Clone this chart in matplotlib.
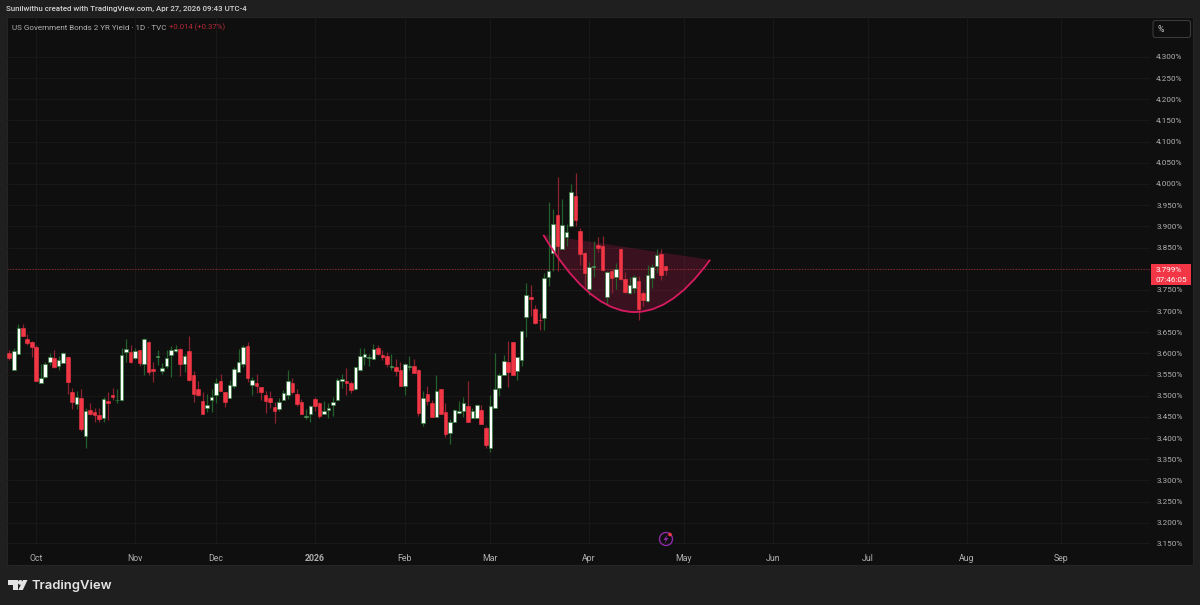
import numpy as np
import matplotlib
matplotlib.use('Agg')
import matplotlib.pyplot as plt
from matplotlib.patches import Rectangle, FancyBboxPatch, Circle, Polygon, PathPatch
from matplotlib.path import Path
from matplotlib.transforms import Affine2D

plt.rcParams['font.family'] = ['Roboto', 'DejaVu Sans']

# --- daily candles ---
direction = ('RGGRRRRGGG' 'RGGRRGRGRR' 'RGRRGGGRGR' 'GRRGGGGGRG' 'RRRRGGGRRG'
             'GGGRGRRRRR' 'GGGRRRGGRR' 'GGGGGRRGGG' 'GGRRRGRRGG' 'RRGRRGRRGG'
             'GGRGGRRGGG' 'GRRGGGRRRG' 'GGRGGGRRRG' 'GRRGRGRRGG' 'RRGGGRR')

highs = [3.609, 3.613, 3.670, 3.670, 3.647, 3.629, 3.619, 3.576, 3.580, 3.601,
         3.607, 3.595, 3.604, 3.593, 3.518, 3.512, 3.517, 3.470, 3.482, 3.470,
         3.470, 3.497, 3.510, 3.519, 3.517, 3.613, 3.634, 3.619, 3.613, 3.608,
         3.637, 3.629, 3.580, 3.607, 3.578, 3.607, 3.618, 3.619, 3.612, 3.599,
         3.640, 3.559, 3.534, 3.510, 3.505, 3.517, 3.541, 3.552, 3.509, 3.538,
         3.569, 3.611, 3.620, 3.627, 3.545, 3.552, 3.521, 3.512, 3.512, 3.486,
         3.495, 3.514, 3.560, 3.541, 3.515, 3.492, 3.469, 3.479, 3.497, 3.486,
         3.488, 3.482, 3.497, 3.542, 3.552, 3.566, 3.536, 3.569, 3.613, 3.612,
         3.599, 3.623, 3.620, 3.608, 3.604, 3.599, 3.586, 3.580, 3.578, 3.593,
         3.586, 3.564, 3.512, 3.523, 3.490, 3.550, 3.516, 3.482, 3.446, 3.468,
         3.487, 3.497, 3.535, 3.472, 3.480, 3.479, 3.428, 3.501, 3.600, 3.554,
         3.597, 3.630, 3.628, 3.592, 3.656, 3.767, 3.762, 3.715, 3.696, 3.791,
         3.958, 3.941, 4.016, 3.964, 3.905, 4.001, 4.027, 3.896, 3.839, 3.817,
         3.866, 3.876, 3.878, 3.794, 3.800, 3.813, 3.849, 3.792, 3.780, 3.786,
         3.782, 3.747, 3.808, 3.810, 3.847, 3.847, 3.807]

body_tops = [3.601, 3.605, 3.661, 3.660, 3.635, 3.626, 3.615, 3.541, 3.576, 3.592,
             3.590, 3.585, 3.600, 3.592, 3.510, 3.497, 3.495, 3.464, 3.467, 3.461,
             3.454, 3.493, 3.488, 3.501, 3.491, 3.597, 3.610, 3.604, 3.605, 3.607,
             3.633, 3.626, 3.564, 3.594, 3.565, 3.589, 3.608, 3.611, 3.611, 3.593,
             3.606, 3.549, 3.516, 3.487, 3.478, 3.497, 3.531, 3.534, 3.508, 3.526,
             3.564, 3.579, 3.615, 3.617, 3.538, 3.529, 3.521, 3.501, 3.495, 3.474,
             3.486, 3.507, 3.535, 3.531, 3.505, 3.486, 3.453, 3.475, 3.492, 3.482,
             3.465, 3.472, 3.486, 3.538, 3.540, 3.534, 3.529, 3.567, 3.593, 3.599,
             3.592, 3.611, 3.613, 3.597, 3.594, 3.571, 3.567, 3.562, 3.575, 3.571,
             3.571, 3.560, 3.494, 3.505, 3.484, 3.512, 3.516, 3.461, 3.439, 3.467,
             3.464, 3.483, 3.476, 3.465, 3.479, 3.467, 3.423, 3.477, 3.515, 3.549,
             3.582, 3.580, 3.628, 3.592, 3.654, 3.739, 3.733, 3.706, 3.680, 3.778,
             3.795, 3.906, 3.927, 3.904, 3.887, 3.982, 3.972, 3.890, 3.836, 3.804,
             3.806, 3.857, 3.854, 3.792, 3.795, 3.799, 3.847, 3.776, 3.762, 3.780,
             3.771, 3.742, 3.785, 3.805, 3.832, 3.835, 3.807]

body_bottoms = [3.588, 3.560, 3.598, 3.642, 3.625, 3.616, 3.534, 3.531, 3.545, 3.579,
                3.569, 3.570, 3.578, 3.532, 3.485, 3.480, 3.422, 3.406, 3.458, 3.454,
                3.446, 3.447, 3.483, 3.497, 3.490, 3.489, 3.603, 3.579, 3.588, 3.577,
                3.575, 3.557, 3.559, 3.592, 3.558, 3.570, 3.597, 3.605, 3.576, 3.575,
                3.537, 3.505, 3.501, 3.457, 3.471, 3.491, 3.501, 3.511, 3.485, 3.494,
                3.522, 3.557, 3.576, 3.542, 3.525, 3.523, 3.508, 3.488, 3.485, 3.464,
                3.468, 3.490, 3.501, 3.509, 3.480, 3.457, 3.450, 3.457, 3.475, 3.453,
                3.458, 3.467, 3.478, 3.491, 3.534, 3.530, 3.513, 3.516, 3.562, 3.592,
                3.589, 3.587, 3.598, 3.591, 3.575, 3.568, 3.559, 3.523, 3.524, 3.567,
                3.554, 3.460, 3.435, 3.487, 3.450, 3.450, 3.457, 3.409, 3.413, 3.439,
                3.460, 3.465, 3.439, 3.448, 3.448, 3.434, 3.384, 3.377, 3.472, 3.519,
                3.549, 3.556, 3.550, 3.559, 3.584, 3.685, 3.728, 3.672, 3.678, 3.683,
                3.781, 3.836, 3.854, 3.847, 3.875, 3.900, 3.914, 3.835, 3.791, 3.753,
                3.803, 3.849, 3.798, 3.733, 3.777, 3.781, 3.775, 3.744, 3.742, 3.754,
                3.706, 3.727, 3.724, 3.777, 3.807, 3.784, 3.798]

lows = [3.584, 3.560, 3.598, 3.642, 3.621, 3.592, 3.534, 3.531, 3.542, 3.573,
        3.566, 3.560, 3.578, 3.505, 3.468, 3.468, 3.417, 3.377, 3.454, 3.439,
        3.438, 3.439, 3.442, 3.491, 3.483, 3.488, 3.580, 3.578, 3.586, 3.570,
        3.549, 3.549, 3.532, 3.572, 3.552, 3.565, 3.544, 3.604, 3.546, 3.557,
        3.534, 3.485, 3.499, 3.456, 3.461, 3.461, 3.482, 3.511, 3.473, 3.494,
        3.519, 3.556, 3.567, 3.532, 3.501, 3.507, 3.489, 3.459, 3.472, 3.435,
        3.465, 3.490, 3.493, 3.505, 3.475, 3.456, 3.444, 3.439, 3.464, 3.448,
        3.456, 3.447, 3.453, 3.490, 3.518, 3.501, 3.506, 3.513, 3.559, 3.572,
        3.571, 3.586, 3.597, 3.584, 3.567, 3.562, 3.546, 3.522, 3.501, 3.560,
        3.553, 3.453, 3.428, 3.479, 3.449, 3.449, 3.456, 3.402, 3.386, 3.438,
        3.456, 3.451, 3.438, 3.447, 3.447, 3.433, 3.376, 3.367, 3.471, 3.499,
        3.548, 3.521, 3.548, 3.538, 3.571, 3.639, 3.688, 3.670, 3.656, 3.656,
        3.758, 3.795, 3.794, 3.847, 3.853, 3.898, 3.902, 3.808, 3.756, 3.737,
        3.780, 3.839, 3.794, 3.714, 3.742, 3.753, 3.774, 3.743, 3.740, 3.742,
        3.680, 3.711, 3.722, 3.754, 3.790, 3.773, 3.785]

# month ticks, given as bar number (future bars continue the same count)
month_bars = [6, 28, 46, 68, 88, 107, 129, 150, 170, 191, 213, 234]
month_labels = ['Oct', 'Nov', 'Dec', '2026', 'Feb', 'Mar', 'Apr', 'May', 'Jun', 'Jul', 'Aug', 'Sep']

price_ticks = [3.15, 3.20, 3.25, 3.30, 3.35, 3.40, 3.45, 3.50, 3.55, 3.60, 3.65, 3.70,
               3.75, 3.80, 3.85, 3.90, 3.95, 4.00, 4.05, 4.10, 4.15, 4.20, 4.25, 4.30]
last_price = 3.799

# cup drawn with the arc tool: start, control, end
arc_bars = [118.8, 137.4, 155.9]
arc_prices = [3.880, 3.5475, 3.821]

BG = '#1f1f1f'
PANE = '#0f0f0f'
GRID = '#181818'
RED = '#f23645'
PINK = '#d81b60'
LABEL = '#b0b0b0'

fig = plt.figure(figsize=(12, 6.05), dpi=100, facecolor=BG)

# transform for page furniture, in pixels from the top left corner
px = Affine2D().scale(1 / 1200, -1 / 605).translate(0, 1) + fig.transFigure

fig.add_artist(Rectangle((7, 17), 1186, 548, transform=px, facecolor=PANE,
                         edgecolor='#242424', linewidth=0.8, zorder=0))

ax = fig.add_axes([7 / 1200, 1 - 544 / 605, 1143 / 1200, 527 / 605])
ax.patch.set_alpha(0)
ax.set_xlim(-0.51, 253.77)
ax.set_ylim(3.1514, 4.3943)
for s in ax.spines.values():
    s.set_visible(False)

ax.set_xticks(month_bars)
ax.set_xticklabels(month_labels, fontsize=6.3, color=LABEL)
ax.get_xticklabels()[3].set_fontweight('bold')
ax.set_yticks(price_ticks)
ax.set_yticklabels(['%.3f%%' % p for p in price_ticks], fontsize=5.9, color=LABEL)
ax.yaxis.tick_right()
ax.tick_params(axis='x', length=0, pad=7.5)
ax.tick_params(axis='y', length=0, pad=4.5)
ax.grid(True, color=GRID, linewidth=0.8, zorder=0)
ax.set_axisbelow(True)
ax.axhline(ax.get_ylim()[0], color='#1c1c1c', linewidth=1.2)

# cup fill and outline
verts = list(zip(arc_bars, arc_prices))
fill_path = Path(verts + [verts[0], verts[0]],
                 [Path.MOVETO, Path.CURVE3, Path.CURVE3, Path.LINETO, Path.CLOSEPOLY])
ax.add_patch(PathPatch(fill_path, facecolor='#e91e63', alpha=0.2, edgecolor='none', zorder=1))

# candles
bars = np.arange(len(highs))
up = np.array([c == 'G' for c in direction])
highs = np.array(highs)
lows = np.array(lows)
tops = np.array(body_tops)
bottoms = np.array(body_bottoms)

ax.vlines(bars[up], lows[up], highs[up], color='#24602c', linewidth=0.9, zorder=2)
ax.vlines(bars[~up], lows[~up], highs[~up], color='#8c2230', linewidth=0.9, zorder=2)
ax.bar(bars[up], tops[up] - bottoms[up], bottom=bottoms[up], width=0.78, color='#ffffff',
       edgecolor='#2d7a36', linewidth=0.5, zorder=3)
ax.bar(bars[~up], tops[~up] - bottoms[~up], bottom=bottoms[~up], width=0.8, color=RED,
       edgecolor=RED, linewidth=0.4, zorder=3)

arc_path = Path(verts, [Path.MOVETO, Path.CURVE3, Path.CURVE3])
ax.add_patch(PathPatch(arc_path, facecolor='none', edgecolor=PINK, linewidth=1.3, zorder=4))

# last price line
ax.axhline(last_price, color=RED, alpha=0.55, linewidth=0.8, linestyle=(0, (1, 1.5)), zorder=2)

# last price tag
fig.add_artist(Rectangle((1151, 264), 39.5, 21, transform=px, facecolor=RED, edgecolor='none', zorder=5))
fig.text(1156 / 1200, 1 - 270 / 605, '3.799%', color='white', fontsize=5.9, ha='left', va='center', zorder=6)
fig.text(1156 / 1200, 1 - 279.5 / 605, '07:46:05', color='white', fontsize=5.9, ha='left', va='center', zorder=6)

# % button
fig.add_artist(FancyBboxPatch((1153, 20.5), 37.5, 17, boxstyle='round,pad=0,rounding_size=2.5', transform=px,
                              facecolor=PANE, edgecolor='#3a3a3a', linewidth=0.8, zorder=5))
fig.text(1161 / 1200, 1 - 29 / 605, '%', color='#c8c8c8', fontsize=6.2, ha='center', va='center', zorder=6)

# header and legend
fig.text(6 / 1200, 1 - 9 / 605, 'Sunilwithu created with TradingView.com, Apr 27, 2026 09:43 UTC-4',
         color='#d4d4d4', fontsize=5.7, fontweight='medium', va='center')
fig.text(12 / 1200, 1 - 27.5 / 605, 'US Government Bonds 2 YR Yield · 1D · TVC', color='#b0b0b0', fontsize=5.8, va='center')
fig.text(169 / 1200, 1 - 27.5 / 605, '+0.014 (+0.37%)', color='#b52a38', fontsize=5.6, va='center')

# session icon
fig.add_artist(Circle((666, 539), 6.5, transform=px, facecolor='none', edgecolor='#8e2aa8', linewidth=1.0, zorder=5))
fig.add_artist(Polygon([(667.5, 534.5), (663.5, 540), (665.8, 540), (664.5, 543.5), (668.5, 538), (666.2, 538)],
                       transform=px, facecolor='#8e2aa8', edgecolor='none', zorder=5))
fig.add_artist(Circle((670, 534.5), 1.8, transform=px, facecolor=RED, edgecolor='none', zorder=6))

# logo
logo = '#e4e4e4'
fig.add_artist(Polygon([(8, 580), (18, 580), (18, 590), (13, 590), (13, 585), (8, 585)], transform=px, facecolor=logo, edgecolor='none'))
fig.add_artist(Circle((20.3, 582.4), 2.4, transform=px, facecolor=logo, edgecolor='none'))
fig.add_artist(Polygon([(23, 580), (27.5, 580), (22.8, 590), (18.3, 590)], transform=px, facecolor=logo, edgecolor='none'))
fig.text(32 / 1200, 1 - 585.5 / 605, 'TradingView', color=logo, fontsize=9.4, fontweight='semibold',
         family=['Inter', 'DejaVu Sans'], va='center')

fig.savefig('out.png', dpi=100, facecolor=fig.get_facecolor())
